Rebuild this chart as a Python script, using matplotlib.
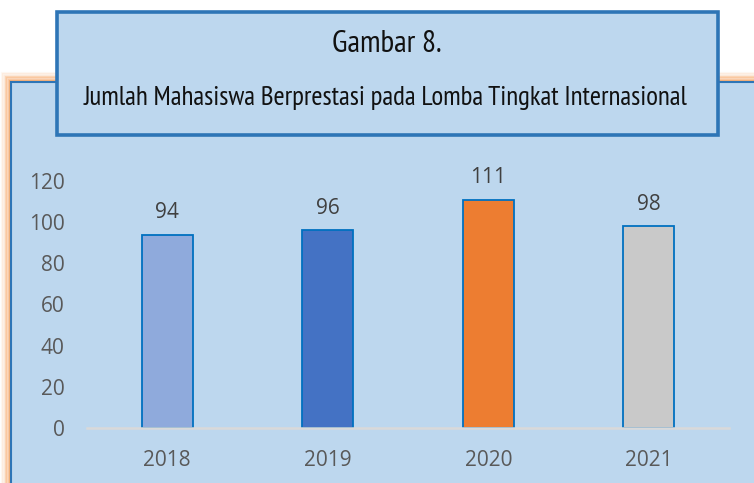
import matplotlib
matplotlib.use("Agg")
import matplotlib.pyplot as plt
from matplotlib.patches import Rectangle

years = ["2018", "2019", "2020", "2021"]
values = [94, 96, 111, 98]
bar_colors = ["#8FAADC", "#4472C4", "#ED7D31", "#C9C9C9"]
yticks = [0, 20, 40, 60, 80, 100, 120]
title1 = "Gambar 8."
title2 = "Jumlah Mahasiswa Berprestasi pada Lomba Tingkat Internasional"

title_font = "PT Sans Narrow"
tick_font = "Open Sans"

W, H = 754, 483
fig = plt.figure(figsize=(W / 100, H / 100), dpi=100)
fig.patch.set_facecolor("white")

def fx(px):
    return px / W

def fy(py):
    return 1 - py / H

# orange glow around the panel
for i, a in enumerate([0.08, 0.14, 0.22, 0.32, 0.44, 0.58, 0.72]):
    off = 9 - i * 1.3
    fig.add_artist(Rectangle((fx(11 - off), fy(600)), fx(900), fy(82 - off) - fy(600),
                             transform=fig.transFigure, facecolor="none",
                             edgecolor="#F8A868", alpha=a, linewidth=1.5, zorder=0))
# panel
fig.add_artist(Rectangle((fx(11), fy(600)), fx(900), fy(82) - fy(600),
                         transform=fig.transFigure, facecolor="#BDD7EE",
                         edgecolor="#2E75B6", linewidth=1.5, zorder=1))

ax = fig.add_axes([fx(87), fy(428), fx(729) - fx(87), fy(181) - fy(428)])
ax.set_facecolor("none")
ax.set_zorder(2)
x = list(range(len(years)))
ax.bar(x, values, width=0.32, color=bar_colors, edgecolor="#0070C0", linewidth=1.3, zorder=2)
ax.set_xlim(-0.5, len(years) - 0.5)
ax.set_ylim(0, 120)
ax.set_yticks(yticks)
ax.set_xticks(x)
ax.set_xticklabels(years)
for s in ["top", "right", "left"]:
    ax.spines[s].set_visible(False)
ax.spines["bottom"].set_color("#D9D9D9")
ax.spines["bottom"].set_linewidth(1.8)
ax.spines["bottom"].set_zorder(3)
ax.tick_params(axis="both", length=0, labelsize=15, labelcolor="#595959")
ax.tick_params(axis="y", pad=16)
ax.tick_params(axis="x", pad=16)
for lab in ax.get_xticklabels() + ax.get_yticklabels():
    lab.set_fontfamily(tick_font)
for xi, v in zip(x, values):
    ax.annotate(str(v), (xi, v), xytext=(0, 12), textcoords="offset points",
                ha="center", va="baseline", fontsize=15, color="#404040",
                fontfamily=tick_font)

# title box
fig.add_artist(Rectangle((fx(57), fy(135)), fx(718) - fx(57), fy(12) - fy(135),
                         transform=fig.transFigure, facecolor="#BDD7EE",
                         edgecolor="#2E75B6", linewidth=2.6, zorder=5))
t1 = fig.text(fx(387), fy(44), title1, ha="center", va="center", fontsize=16,
              fontfamily=title_font, color="#111111", zorder=6)
t2 = fig.text(fx(386), fy(98), title2, ha="center", va="center", fontsize=14,
              fontfamily=title_font, color="#111111", zorder=6)

# fit title widths to the reference
fig.canvas.draw()
r = fig.canvas.get_renderer()
for t, target in [(t1, 110), (t2, 609)]:
    w = t.get_window_extent(r).width
    t.set_fontsize(t.get_fontsize() * target / w)

fig.savefig("out.png", dpi=100)
